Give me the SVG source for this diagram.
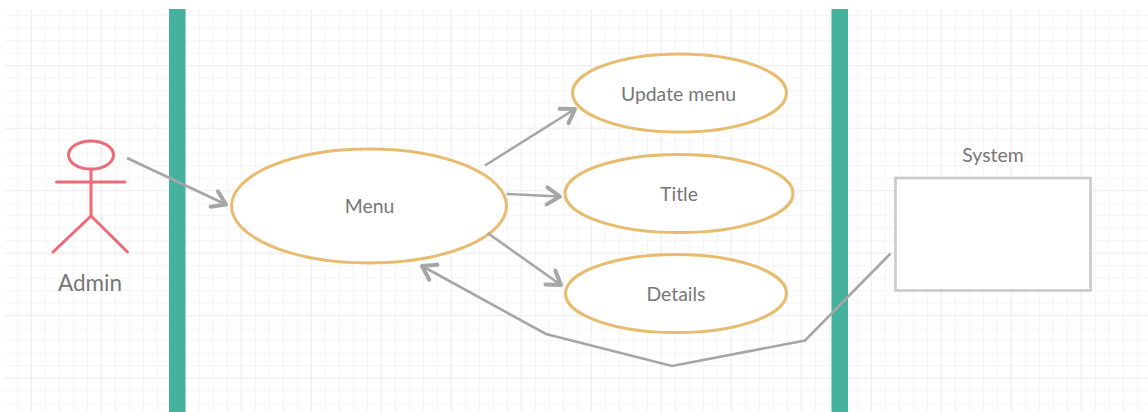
<svg xmlns="http://www.w3.org/2000/svg" width="1148" height="412" viewBox="0 0 1148 412">
<style>
.grid{stroke:#f4f4f4;stroke-width:1;fill:none}
.gridm{stroke:#eeeeee;stroke-width:1;fill:none}
.lane{fill:#45b29d}
.uc{fill:#fff;stroke:#e8bb6e;stroke-width:3}
.act{fill:none;stroke:#ef6a76;stroke-width:3;stroke-linecap:round}
.conn{fill:none;stroke:#a6a6a6;stroke-width:2.6}
.head{fill:none;stroke:#a6a6a6;stroke-width:4;stroke-linecap:round;stroke-linejoin:round}
text{font-family:Lato,"Open Sans",sans-serif;fill:#777;text-anchor:middle}
</style>
<defs>
<pattern id="g" x="2.800" y="2.700" width="14" height="12.500" patternUnits="userSpaceOnUse"><path class="grid" d="M.5 0V12.500M0 .5H14"/></pattern>
<pattern id="G" x="30.800" y="2.700" width="70" height="62.500" patternUnits="userSpaceOnUse"><path class="gridm" d="M.5 0V62.500M0 .5H70"/></pattern>
<marker id="a" markerUnits="userSpaceOnUse" viewBox="-20 -12 24 24" refX="0" refY="0" markerWidth="24" markerHeight="24" orient="auto"><path class="head" d="M-13 -8.500L0 0L-13 8.500"/></marker>
</defs>
<rect width="1148" height="412" fill="#fff"/>
<g id="grid"><rect x="4" y="9" width="1144" height="403" fill="url(#g)"/><rect x="4" y="9" width="1144" height="403" fill="url(#G)"/></g>
<g id="lanes"><rect class="lane" x="169" y="9" width="16.500" height="403"/><rect class="lane" x="831.500" y="9" width="16.500" height="403"/></g>
<g id="actor-admin">
<ellipse class="act" cx="91" cy="155" rx="22.500" ry="14"/>
<path class="act" d="M91 169V216M56.500 182H125M91 216L53 252M91 216L127.500 252"/>
<text x="90" y="291" font-size="22.500">Admin</text>
</g>
<g id="uc-menu"><ellipse class="uc" cx="369" cy="206" rx="137.500" ry="57"/><text x="369.500" y="213" font-size="19.400">Menu</text></g>
<g id="uc-update"><ellipse class="uc" cx="679.500" cy="93" rx="107" ry="39"/><text x="678.500" y="100.500" font-size="19.400">Update menu</text></g>
<g id="uc-title"><ellipse class="uc" cx="679" cy="193.500" rx="114" ry="39"/><text x="679" y="200.500" font-size="19.400">Title</text></g>
<g id="uc-details"><ellipse class="uc" cx="676" cy="293.500" rx="110.500" ry="39"/><text x="676" y="300.500" font-size="19.400">Details</text></g>
<g id="system"><rect x="895.500" y="178" width="195" height="112.500" fill="#fff" stroke="#cacaca" stroke-width="2.600"/><text x="993" y="161.500" font-size="19.400">System</text></g>
<g id="connectors">
<path class="conn" marker-end="url(#a)" d="M127 158L226 204.500"/>
<path class="conn" marker-end="url(#a)" d="M485 165.500L575 109"/>
<path class="conn" marker-end="url(#a)" d="M506.500 194L560 196.500"/>
<path class="conn" marker-end="url(#a)" d="M487.500 233L561 285"/>
<path class="conn" marker-end="url(#a)" d="M890.500 253.500L805 340.500L672 366L546 334L422 266"/>
</g>
</svg>
